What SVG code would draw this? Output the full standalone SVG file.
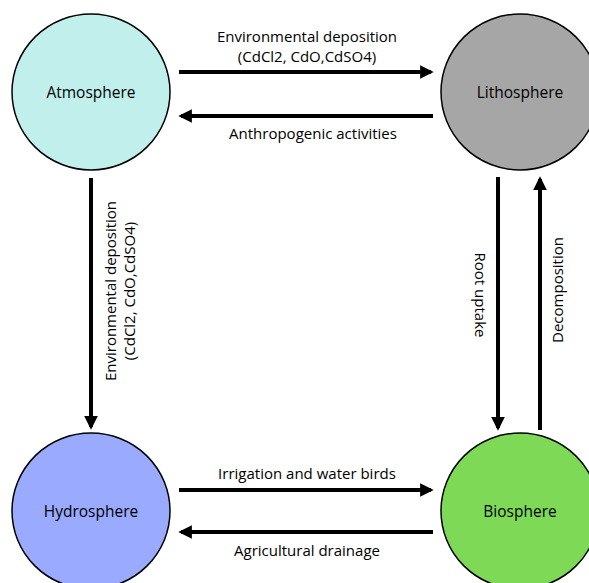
<svg xmlns="http://www.w3.org/2000/svg" width="589" height="583" viewBox="0 0 589 583">
<style>
.node{stroke:#000;stroke-width:1.5}
.nt{font-family:"Open Sans","Liberation Sans",sans-serif;font-size:15.5px;fill:#000;text-anchor:middle;dominant-baseline:central}
.lb{font-family:"Open Sans","Liberation Sans",sans-serif;font-size:15px;fill:#000;text-anchor:middle;dominant-baseline:central}
.ar{stroke:#000;stroke-width:4;fill:none;marker-end:url(#ah)}
</style>
<defs>
<marker id="ah" viewBox="0 0 10 10" refX="8" refY="5" markerWidth="3.4" markerHeight="3.8" orient="auto" markerUnits="strokeWidth">
<path d="M0,0 L10,5 L0,10 z" fill="#000"/>
</marker>
</defs>
<rect width="589" height="583" fill="#fff"/>
<g id="atmosphere"><ellipse class="node" cx="91" cy="92" rx="79" ry="78" fill="#c1f0ec"/><text class="nt" x="91" y="92">Atmosphere</text></g>
<g id="lithosphere"><ellipse class="node" cx="520" cy="92" rx="79" ry="78" fill="#a6a6a6"/><text class="nt" x="520" y="92">Lithosphere</text></g>
<g id="hydrosphere"><ellipse class="node" cx="91" cy="511" rx="79" ry="78" fill="#99aaff"/><text class="nt" x="91" y="511">Hydrosphere</text></g>
<g id="biosphere"><ellipse class="node" cx="520" cy="511" rx="79" ry="78" fill="#7ed957"/><text class="nt" x="520" y="511">Biosphere</text></g>
<g id="connectors">
<line class="ar" x1="179" y1="72" x2="431" y2="72"/>
<line class="ar" x1="433" y1="116" x2="181" y2="116"/>
<line class="ar" x1="91" y1="178" x2="91" y2="427"/>
<line class="ar" x1="498" y1="177" x2="498" y2="428"/>
<line class="ar" x1="540" y1="430" x2="540" y2="179"/>
<line class="ar" x1="179" y1="490" x2="431" y2="490"/>
<line class="ar" x1="433" y1="532" x2="181" y2="532"/>
<text class="lb" x="307" y="36">Environmental deposition</text>
<text class="lb" x="307" y="56">(CdCl2, CdO,CdSO4)</text>
<text class="lb" x="313" y="133">Anthropogenic activities</text>
<text class="lb" transform="translate(110,291) rotate(-90)">Environmental deposition</text>
<text class="lb" transform="translate(129,291) rotate(-90)">(CdCl2, CdO,CdSO4)</text>
<text class="lb" transform="translate(481,295) rotate(90)">Root uptake</text>
<text class="lb" transform="translate(557,290) rotate(-90)">Decomposition</text>
<text class="lb" x="307" y="473">Irrigation and water birds</text>
<text class="lb" x="307" y="550">Agricultural drainage</text>
</g>
</svg>
